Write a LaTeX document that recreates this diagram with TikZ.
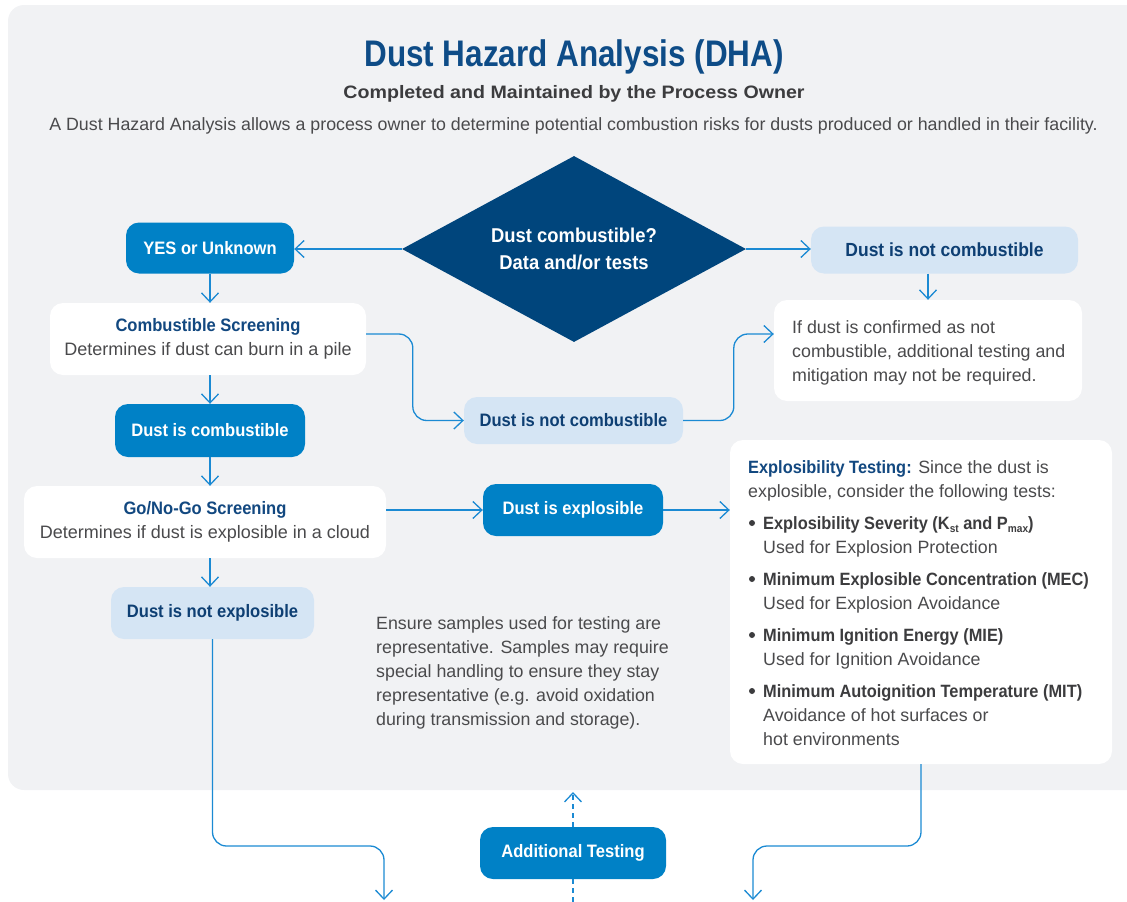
\documentclass[tikz,border=0pt]{standalone}
\usepackage{fontspec}
\setmainfont{Liberation Sans}
\newfontfamily\cf[FakeStretch=0.92]{Liberation Sans}
\newfontfamily\tf[FakeStretch=0.85]{Liberation Sans}
\newfontfamily\subf[FakeStretch=1.09]{Liberation Sans}
\usetikzlibrary{shapes.geometric,arrows.meta,calc}
\definecolor{navy}{RGB}{0,69,124}
\definecolor{titleblue}{RGB}{14,76,135}
\definecolor{mblue}{RGB}{0,129,198}
\definecolor{lblue}{RGB}{213,229,244}
\definecolor{dtext}{RGB}{14,63,115}
\definecolor{hblue}{RGB}{18,72,128}
\definecolor{connc}{RGB}{27,138,211}
\definecolor{txtgray}{RGB}{74,74,76}
\definecolor{subgray}{RGB}{60,60,62}
\definecolor{panel}{RGB}{241,242,244}
\newcommand{\lowsub}[1]{\raisebox{-3pt}{\fontsize{11}{11}\selectfont #1}}
\begin{document}
\begin{tikzpicture}[x=1pt,y=-1pt,
  conn/.style={draw=connc, line width=1.3pt, -{Straight Barb[length=9pt,width=17pt,line width=1.3pt]}},
  plainconn/.style={draw=connc, line width=1.3pt},
  box/.style={rounded corners=13pt, inner sep=0pt, align=center},
  dbox/.style={box, fill=mblue, text=white, font=\cf\bfseries\fontsize{18}{22}\selectfont},
  lbox/.style={box, fill=lblue, text=dtext, font=\cf\bfseries\fontsize{18}{22}\selectfont},
  wbox/.style={box, fill=white},
  body/.style={inner sep=0pt, align=left, text=txtgray, font=\fontsize{17.8}{24}\selectfont},
  wtext/.style={inner sep=0pt, align=center, text=txtgray, font=\fontsize{18}{24}\selectfont},
  bul/.style={circle, fill=subgray, inner sep=0pt, minimum size=6pt}
]
\useasboundingbox (0,0) rectangle (1127,902);
\clip (0,0) rectangle (1127,902);
\fill[panel, rounded corners=16pt] (8,5) rectangle (1170,790);

% header
\node[anchor=base, text=titleblue, inner sep=0pt, font=\tf\bfseries\fontsize{37}{40}\selectfont] (title) at (574,66) {Dust Hazard Analysis (DHA)};
\node[anchor=base, text=subgray, inner sep=0pt, font=\subf\bfseries\fontsize{18}{20}\selectfont] (sub) at (574,98) {Completed and Maintained by the Process Owner};
\node[anchor=base, text=txtgray, inner sep=0pt, font=\fontsize{17.8}{20}\selectfont] (desc) at (573.5,130) {A Dust Hazard Analysis allows a process owner to determine potential combustion risks for dusts produced or handled in their facility.};

% nodes
\node[diamond, aspect=1.85, fill=navy, minimum width=344pt, minimum height=186pt, inner sep=0pt, text=white, align=center, font=\cf\bfseries\fontsize{20}{27}\selectfont] (dia) at (574,249) {Dust combustible?\\Data and/or tests};
\node[dbox, minimum width=168pt, minimum height=51pt] (yes) at (210,248) {YES or Unknown};
\node[lbox, minimum width=267pt, minimum height=47pt, font=\cf\bfseries\fontsize{19}{22}\selectfont] (nc1) at (944.5,250) {Dust is not combustible};
\node[wbox, wtext, minimum width=316pt, minimum height=72pt] (cs) at (208,339) {{\cf\bfseries\color{hblue}Combustible Screening}\\Determines if dust can burn in a pile};
\node[dbox, minimum width=190pt, minimum height=53pt] (cb) at (210,430.5) {Dust is combustible};
\node[wbox, wtext, minimum width=362pt, minimum height=72pt] (gng) at (205,522) {{\cf\bfseries\color{hblue}Go/No-Go Screening}\\Determines if dust is explosible in a cloud};
\node[lbox, minimum width=203pt, minimum height=52pt] (nex) at (212.5,613) {Dust is not explosible};
\node[lbox, minimum width=219pt, minimum height=47pt] (nc2) at (573.5,420.5) {Dust is not combustible};
\node[dbox, minimum width=180pt, minimum height=52pt] (ex) at (573,510) {Dust is explosible};
\node[wbox, minimum width=308pt, minimum height=101pt] (ifd) at (928,350.5) {};
\node[body, anchor=west] (ifdt) at (792,353) {If dust is confirmed as not\\combustible, additional testing and\\mitigation may not be required.};
\node[wbox, minimum width=382pt, minimum height=324pt] (ext) at (921,602) {};
\node[body, anchor=west] (e0) at (748,481) {{\cf\bfseries\color{hblue}Explosibility Testing:} Since the dust is\\explosible, consider the following tests:};
\node[bul] (d1) at (752,523) {};
\node[bul] (d2) at (752,579) {};
\node[bul] (d3) at (752,635) {};
\node[bul] (d4) at (752,691) {};
\node[body, anchor=west] (e1) at (763,537) {{\cf\bfseries\color{subgray}Explosibility Severity (K\lowsub{st} and P\lowsub{max})}\\Used for Explosion Protection};
\node[body, anchor=west] (e2) at (763,593) {{\cf\bfseries\color{subgray}Minimum Explosible Concentration (MEC)}\\Used for Explosion Avoidance};
\node[body, anchor=west] (e3) at (763,649) {{\cf\bfseries\color{subgray}Minimum Ignition Energy (MIE)}\\Used for Ignition Avoidance};
\node[body, anchor=west] (e4) at (763,715) {{\cf\bfseries\color{subgray}Minimum Autoignition Temperature (MIT)}\\Avoidance of hot surfaces or\\hot environments};
\node[body, anchor=west] (mid) at (376,673) {Ensure samples used for testing are\\representative. Samples may require\\special handling to ensure they stay\\representative (e.g. avoid oxidation\\during transmission and storage).};
\node[dbox, minimum width=186pt, minimum height=52pt] (add) at (573,853) {Additional Testing};

% free ends
\coordinate (outL) at (384,900);
\coordinate (outR) at (753,900);
\coordinate (upT) at (573,792);
\coordinate (dnB) at (573,905);
\coordinate (csout) at ([yshift=5pt]cs.east);
\coordinate (ifdin) at ([yshift=16.5pt]ifd.west);

% connectors
\draw[conn] (dia.west) -- (dia.west -| yes.east);
\draw[conn] (dia.east) -- (dia.east -| nc1.west);
\draw[conn] (yes.south) -- (yes.south |- cs.north);
\draw[conn] (yes.south |- cs.south) -- (yes.south |- cb.north);
\draw[conn] (yes.south |- cb.south) -- (yes.south |- gng.north);
\draw[conn] (yes.south |- gng.south) -- (yes.south |- nex.north);
\draw[conn] (ifd.north |- nc1.south) -- (ifd.north);
\draw[conn, rounded corners=14pt] (csout) -| ($(nc2.west)+(-51,0)$) -- (nc2.west);
\draw[conn, rounded corners=14pt] (nc2.east) -| ($(ifdin)+(-40,0)$) -- (ifdin);
\draw[conn] (ex.west -| gng.east) -- (ex.west);
\draw[conn] (ex.east) -- (ex.east -| ext.west);
\draw[conn, rounded corners=14pt] (nex.south) |- ($(outL)+(0,-54)$) -- (outL);
\draw[conn, rounded corners=14pt] (ext.south) |- ($(outR)+(0,-54)$) -- (outR);
\draw[conn, dashed, dash pattern=on 5pt off 4pt] (add.north) -- (upT);
\draw[plainconn, dashed, dash pattern=on 5pt off 4pt] (add.south) -- (dnB);
\end{tikzpicture}
\end{document}
